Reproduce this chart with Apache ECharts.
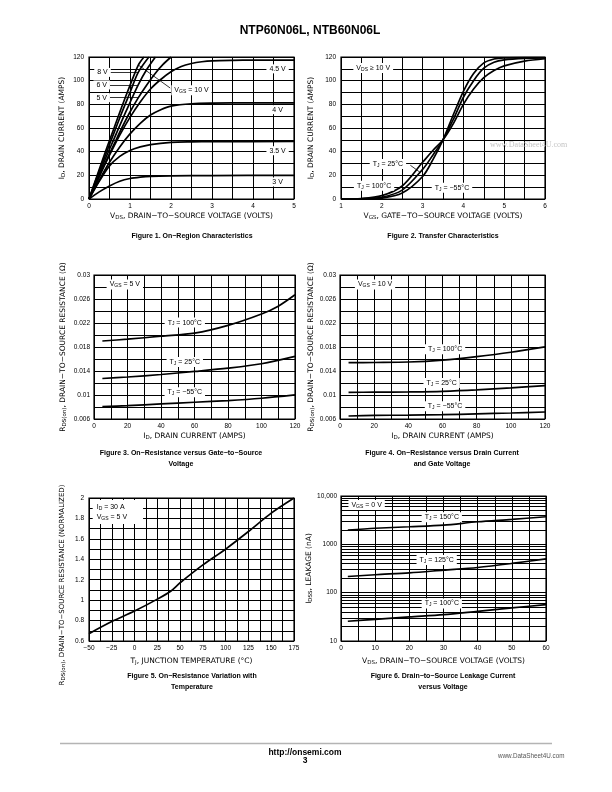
<!DOCTYPE html>
<html><head><meta charset="utf-8">
<script src="https://cdn.jsdelivr.net/npm/echarts@6/dist/echarts.min.js"></script>
<style>html,body{margin:0;padding:0;background:#fff}#c{width:612px;height:792px}</style>
</head><body><div id="c"></div>
<script>
// ---------- DATA ----------
// Figure 1: On-Region Characteristics  [VDS (V), ID (A)]
const f1_10V = [[0,0],[0.2,20],[0.4,40],[0.6,59],[0.8,78],[1.0,96],[1.2,113],[1.34,120]];
const f1_8V  = [[0,0],[0.2,19],[0.4,37],[0.6,55],[0.8,73],[1.0,90],[1.2,107],[1.46,120]];
const f1_6V  = [[0,0],[0.2,17],[0.4,34],[0.6,50],[0.8,66],[1.0,81.5],[1.2,96.5],[1.4,109],[1.62,120]];
const f1_5V  = [[0,0],[0.2,15.5],[0.4,31],[0.6,45.5],[0.8,60],[1.0,73.5],[1.2,85.5],[1.4,96],[1.6,105.5],[1.8,113.5],[2.0,120]];
const f1_45V = [[0,0],[0.25,19],[0.5,37],[0.75,54],[1.0,69],[1.25,82],[1.5,93],[1.75,101],[2.0,107.5],[2.25,112],[2.5,114.5],[2.75,116],[3.0,116.8],[3.5,117.2],[4,117.3],[5,117.3]];
const f1_4V  = [[0,0],[0.25,16],[0.5,31],[0.75,44],[1.0,55],[1.25,64],[1.5,71],[1.75,75.5],[2.0,78.5],[2.5,80.5],[3,81],[4,81.2],[5,81.2]];
const f1_35V = [[0,0],[0.25,15],[0.5,28],[0.75,36],[1.0,41],[1.25,44],[1.5,46],[2.0,47.8],[2.5,48.3],[3,48.5],[5,48.6]];
const f1_3V  = [[0,0],[0.25,6],[0.5,11],[0.75,15],[1.0,17.3],[1.25,18.5],[1.5,19.2],[2.0,19.6],[3,19.8],[5,20]];
// Figure 2: Transfer Characteristics  [VGS (V), ID (A)]
const f2_m55 = [[1,0],[1.5,0.1],[2,0.8],[2.5,5],[3,19],[3.25,33],[3.5,50],[3.75,71],[4,91],[4.25,106],[4.5,115],[4.75,118.3],[5,119.2],[5.5,119.4],[6,119.4]];
const f2_25  = [[1,0],[1.5,0.2],[2,1.5],[2.5,7.5],[3,25],[3.25,37],[3.5,50],[3.75,67],[4,86],[4.25,100],[4.5,110.5],[4.75,115.5],[5,117.5],[5.5,118.8],[6,119.2]];
const f2_100 = [[1,0],[1.5,0.4],[2,2.8],[2.5,11],[3,31],[3.25,41],[3.5,50],[3.75,63.5],[4,80],[4.25,93],[4.5,102.5],[4.75,108.5],[5,112.5],[5.5,116.5],[6,118.5]];
// Figure 3: RDS(on) vs ID, VGS = 5 V  [ID (A), R (ohm)]
const f3_100 = [[5,0.0190],[20,0.0193],[40,0.0198],[60,0.0203],[80,0.0216],[100,0.0235],[110,0.0248],[120,0.0267]];
const f3_25  = [[5,0.01275],[20,0.0130],[40,0.01342],[60,0.01393],[80,0.01448],[100,0.01521],[120,0.01644]];
const f3_m55 = [[5,0.00806],[20,0.00823],[40,0.00851],[60,0.00879],[80,0.00907],[100,0.00946],[120,0.01002]];
// Figure 4: RDS(on) vs ID, VGS = 10 V
const f4_100 = [[5,0.01538],[20,0.01542],[40,0.01550],[60,0.01582],[80,0.01640],[100,0.01712],[120,0.01802]];
const f4_25  = [[5,0.01045],[20,0.01047],[40,0.01052],[60,0.01062],[80,0.01085],[100,0.01118],[120,0.01156]];
const f4_m55 = [[5,0.0065],[20,0.0066],[40,0.00665],[60,0.00673],[80,0.00685],[100,0.0070],[120,0.00717]];
// Figure 5: normalized RDS(on) vs TJ
const f5_rds = [[-50,0.672],[-25,0.79],[0,0.893],[25,1.01],[40,1.09],[50,1.17],[75,1.345],[100,1.5],[125,1.672],[150,1.852],[175,2.0]];
// Figure 6: IDSS leakage (nA) vs VDS
const f6_150 = [[2,1970],[10,2150],[20,2310],[30,2500],[40,2930],[50,3280],[60,3720]];
const f6_125 = [[2,216],[10,235],[20,257],[30,292],[40,332],[50,402],[60,500]];
const f6_100 = [[2,25.6],[10,28],[20,31.5],[30,35.2],[40,41.2],[50,48.3],[60,56.6]];
const f6_minorLines = [20,30,40,50,60,70,80,90,200,300,400,500,600,700,800,900,2000,3000,4000,5000,6000,7000,8000,9000];
const f6_yTickLabels = {10:'10',100:'100',1000:'1000',10000:'10,000'};

// ---------- STYLE ----------
const NF = '"Liberation Sans", Arial, Helvetica, sans-serif';
const TF = '"DejaVu Sans", "Liberation Sans", sans-serif';
const SUB = {fontSize:5.5, fontFamily:TF, color:'#000', padding:[3,0,0,0]};
const SUBN = {fontSize:5, fontFamily:NF, color:'#000', padding:[3,0,0,0]};
const NAME_STYLE = {color:'#000', fontSize:7.5, fontFamily:TF, rich:{s:SUB}};

const grids = [
  {left:89, top:57, width:205, height:142},
  {left:341, top:57, width:204, height:142},
  {left:94, top:275, width:201, height:144},
  {left:340, top:275, width:205, height:144},
  {left:89, top:498, width:205, height:143},
  {left:341, top:496, width:205, height:145}
].map(g => Object.assign({show:true, borderColor:'#000', borderWidth:1.2, backgroundColor:'#fff'}, g));

function axis(i, o) {
  return Object.assign({
    gridIndex:i, type:'value',
    axisLine:{show:false}, axisTick:{show:false},
    splitLine:{show:true, lineStyle:{color:'#000', width:1}},
    nameLocation:'middle',
    nameTextStyle:NAME_STYLE
  }, o);
}
const lab = (fmt, margin) => ({color:'#000', fontSize:6.5, fontFamily:NF, margin, formatter:fmt});
const keep = (step, every, base, fmt) => v => {
  const k = Math.round((v - base) / step);
  return k % every === 0 ? fmt(v) : '';
};
const num = d => v => String(Number(v.toFixed(d)));
const neg = v => v < 0 ? '\u2212' + Math.abs(v) : String(v);

const xAxes = [
  axis(0,{min:0,max:5,interval:0.5,axisLabel:lab(keep(0.5,2,0,num(0)),4),name:'V{s|DS}, DRAIN\u2212TO\u2212SOURCE VOLTAGE (VOLTS)',nameGap:13}),
  axis(1,{min:1,max:6,interval:0.5,axisLabel:lab(keep(0.5,2,1,num(0)),4),name:'V{s|GS}, GATE\u2212TO\u2212SOURCE VOLTAGE (VOLTS)',nameGap:13}),
  axis(2,{min:0,max:120,interval:10,axisLabel:lab(keep(10,2,0,num(0)),4),name:'I{s|D}, DRAIN CURRENT (AMPS)',nameGap:13}),
  axis(3,{min:0,max:120,interval:10,axisLabel:lab(keep(10,2,0,num(0)),4),name:'I{s|D}, DRAIN CURRENT (AMPS)',nameGap:13}),
  axis(4,{min:-50,max:175,interval:12.5,axisLabel:lab(keep(12.5,2,-50,neg),4),name:'T{s|J}, JUNCTION TEMPERATURE (\u00B0C)',nameGap:16}),
  axis(5,{min:0,max:60,interval:5,axisLabel:lab(keep(5,2,0,num(0)),4),name:'V{s|DS}, DRAIN\u2212TO\u2212SOURCE VOLTAGE (VOLTS)',nameGap:16})
];
const yAxes = [
  axis(0,{min:0,max:120,interval:10,axisLabel:lab(keep(10,2,0,num(0)),5),name:'I{s|D}, DRAIN CURRENT (AMPS)',nameGap:22}),
  axis(1,{min:0,max:120,interval:10,axisLabel:lab(keep(10,2,0,num(0)),5),name:'I{s|D}, DRAIN CURRENT (AMPS)',nameGap:25}),
  axis(2,{min:0.006,max:0.03,interval:0.002,axisLabel:lab(keep(0.002,2,0.006,num(3)),4),name:'R{s|DS(on)}, DRAIN\u2212TO\u2212SOURCE RESISTANCE (\u03A9)',nameGap:26}),
  axis(3,{min:0.006,max:0.03,interval:0.002,axisLabel:lab(keep(0.002,2,0.006,num(3)),4),name:'R{s|DS(on)}, DRAIN\u2212TO\u2212SOURCE RESISTANCE (\u03A9)',nameGap:22}),
  axis(4,{min:0.6,max:2,interval:0.1,axisLabel:lab(keep(0.1,2,0.6,num(1)),5),name:'R{s|DS(on)}, DRAIN\u2212TO\u2212SOURCE RESISTANCE (NORMALIZED)',nameGap:22,
    nameTextStyle:Object.assign({}, NAME_STYLE, {fontSize:7, padding:[0,31,0,0]})}),
  axis(5,{type:'log',logBase:10,min:10,max:10000,axisLabel:lab(v=>f6_yTickLabels[Math.round(v)]||'',4),name:'I{s|DSS}, LEAKAGE (nA)',nameGap:22})
];

function curve(i, data, extra) {
  return Object.assign({type:'line', xAxisIndex:i, yAxisIndex:i, data, smooth:0.3, symbol:'none',
    lineStyle:{color:'#000', width:1.7}, silent:true, animation:false, z:3}, extra||{});
}
function notes(items, labelExtra) {
  return {silent:true, symbol:'rect', symbolSize:1, itemStyle:{color:'rgba(0,0,0,0)'}, z:6, animation:false,
    label:Object.assign({show:true, position:'inside', formatter:p=>p.name, color:'#000', fontSize:7, fontFamily:NF,
      backgroundColor:'#fff', padding:[1,3,1,3], rich:{s:SUBN}}, labelExtra||{}),
    data: items.map(it => ({coord:[it[0], it[1]], name:it[2]}))};
}
function leaders(segs) {
  return {silent:true, symbol:['none','none'], z:5, animation:false, label:{show:false},
    lineStyle:{color:'#000', width:0.8, type:'solid'},
    data: segs.map(s => [{coord:[s[0],s[1]]},{coord:[s[2],s[3]]}])};
}

const series = [
  curve(0, f1_10V, {
    markPoint: notes([[0.33,107,'8 V'],[0.31,96.4,'6 V'],[0.31,85.6,'5 V'],[2.5,92,'V{s|GS} = 10 V'],
      [4.6,110,'4.5 V'],[4.6,75.5,'4 V'],[4.6,40.8,'3.5 V'],[4.6,14.4,'3 V']]),
    markLine: leaders([[0.5,107,1.195,107],[0.47,96.4,1.195,96.4],[0.47,85.6,1.195,85.6],[1.2,113.3,1.98,93.8]])
  }),
  curve(0, f1_8V), curve(0, f1_6V), curve(0, f1_5V), curve(0, f1_45V),
  curve(0, f1_4V), curve(0, f1_35V), curve(0, f1_3V),
  curve(1, f2_m55, {
    markPoint: notes([[1.79,110.7,'V{s|DS} \u2265 10 V'],[2.15,29.5,'T{s|J} = 25\u00B0C'],[1.81,11.2,'T{s|J} = 100\u00B0C'],[3.72,9.6,'T{s|J} = \u221255\u00B0C']]),
    markLine: leaders([[2.7,28.5,2.94,22.5]])
  }),
  curve(1, f2_25), curve(1, f2_100),
  curve(2, f3_100, {markPoint: notes([[18.4,0.02843,'V{s|GS} = 5 V'],[54.2,0.02207,'T{s|J} = 100\u00B0C'],[54.2,0.01549,'T{s|J} = 25\u00B0C'],[54.2,0.01047,'T{s|J} = \u221255\u00B0C']])}),
  curve(2, f3_25), curve(2, f3_m55),
  curve(3, f4_100, {markPoint: notes([[20.5,0.02843,'V{s|GS} = 10 V'],[61.5,0.01762,'T{s|J} = 100\u00B0C'],[59.5,0.01202,'T{s|J} = 25\u00B0C'],[61.5,0.00813,'T{s|J} = \u221255\u00B0C']])}),
  curve(3, f4_25), curve(3, f4_m55),
  curve(4, f5_rds, {markPoint: notes([[-46.5,1.864,'I{s|D} = 30 A\nV{s|GS} = 5 V']], {position:'right', align:'left', padding:[2,16,2,4], lineHeight:10, distance:0})}),
  curve(5, f6_150, {
    markPoint: notes([[7.5,6530,'V{s|GS} = 0 V'],[29.5,3630,'T{s|J} = 150\u00B0C'],[28,472,'T{s|J} = 125\u00B0C'],[29.5,59.7,'T{s|J} = 100\u00B0C']]),
    markLine: {silent:true, symbol:['none','none'], z:1, animation:false, label:{show:false},
      lineStyle:{color:'#000', width:1, type:'solid'}, data: f6_minorLines.map(v => ({yAxis:v}))}
  }),
  curve(5, f6_125), curve(5, f6_100)
];

function gtext(x, y, text, font, fill, align) {
  return {type:'text', x, y, silent:true, z:100,
    style:{text, font, fill: fill || '#000', align: align || 'center', verticalAlign:'middle'}};
}
const BF = 'bold 7px ' + NF;
const graphic = [
  gtext(310, 31, 'NTP60N06L, NTB60N06L', 'bold 12px ' + NF),
  gtext(192, 236, 'Figure 1. On\u2212Region Characteristics', BF),
  gtext(443, 236, 'Figure 2. Transfer Characteristics', BF),
  gtext(181, 453, 'Figure 3. On\u2212Resistance versus Gate\u2212to\u2212Source', BF),
  gtext(181, 464, 'Voltage', BF),
  gtext(442, 453, 'Figure 4. On\u2212Resistance versus Drain Current', BF),
  gtext(442, 464, 'and Gate Voltage', BF),
  gtext(192, 676, 'Figure 5. On\u2212Resistance Variation with', BF),
  gtext(192, 687, 'Temperature', BF),
  gtext(443, 676, 'Figure 6. Drain\u2212to\u2212Source Leakage Current', BF),
  gtext(443, 687, 'versus Voltage', BF),
  gtext(490, 145, 'www.DataSheet4U.com', '8px "Liberation Serif", "DejaVu Serif", serif', '#c4c4c4', 'left'),
  {type:'line', silent:true, z:100, shape:{x1:60, y1:743.5, x2:552, y2:743.5}, style:{stroke:'#b4b4b4', lineWidth:1.5}},
  gtext(305, 753, 'http://onsemi.com', 'bold 8.5px ' + NF),
  gtext(305, 761, '3', 'bold 8.5px ' + NF),
  gtext(498, 756, 'www.DataSheet4U.com', '6.3px ' + NF, '#555', 'left')
];

const chart = echarts.init(document.getElementById('c'), null, {renderer:'canvas'});
chart.setOption({
  backgroundColor:'#fff', animation:false,
  grid: grids, xAxis: xAxes, yAxis: yAxes, series, graphic
});
</script></body></html>
